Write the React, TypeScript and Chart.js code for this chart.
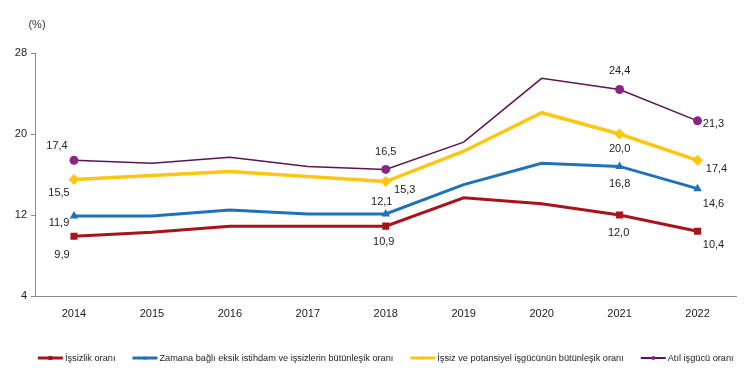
import React, { useEffect, useRef } from "react";
import { Chart, registerables } from "chart.js";

Chart.register(...registerables);

const years = ["2014", "2015", "2016", "2017", "2018", "2019", "2020", "2021", "2022"];
const unemployment = [9.9, 10.3, 10.9, 10.9, 10.9, 13.7, 13.1, 12.0, 10.4];
const timeRelated = [11.9, 11.9, 12.5, 12.1, 12.1, 15.0, 17.1, 16.8, 14.6];
const potential = [15.5, 15.9, 16.3, 15.8, 15.3, 18.3, 22.1, 20.0, 17.4];
const underutil = [17.4, 17.1, 17.7, 16.8, 16.5, 19.2, 25.5, 24.4, 21.3];
const seriesNames = [
  "İşsizlik oranı",
  "Zamana bağlı eksik istihdam ve işsizlerin bütünleşik oranı",
  "İşsiz ve potansiyel işgücünün bütünleşik oranı",
  "Atıl işgücü oranı",
];
const yMin = 4;
const yMax = 28;
const yStep = 8;
const labeledIdx = [0, 4, 7, 8];

// styling (not data)
const FONT = "'Liberation Sans', Arial, sans-serif";
const lineColors = ["#A8141C", "#1F72BA", "#FCC613", "#5C1456"];
const markerColors = ["#A8141C", "#1F72BA", "#FCC613", "#8C2389"];
const lineWidths = [3, 3, 3.5, 1.5];
const pointStyles = ["rect", "triangle", "rectRot", "circle"];
const pointRadii = [5, 5, 5.5, 4.5];
const labelOffsets = [
  [[-12, 19], [-2, 16], [-1, 18], [16, 14]],
  [[-15, 7], [-4, -12], [0, 18], [16, 15]],
  [[-15, 13], [19, 8], [0, 15], [19, 9]],
  [[-17, -14], [0, -17], [0, -18], [16, 3]],
];

const fmt = (v: number) => v.toFixed(1).replace(".", ",");

const labelPlugin = {
  id: "dataLabels",
  afterDatasetsDraw(chart: any) {
    const ctx = chart.ctx;
    ctx.save();
    ctx.font = `11px ${FONT}`;
    ctx.fillStyle = "#222";
    ctx.textAlign = "center";
    ctx.textBaseline = "middle";
    chart.data.datasets.forEach((ds: any, di: number) => {
      const meta = chart.getDatasetMeta(di);
      labeledIdx.forEach((idx, k) => {
        const el = meta.data[idx];
        const [dx, dy] = labelOffsets[di][k];
        ctx.fillText(fmt(ds.data[idx]), el.x + dx, el.y + dy);
      });
    });
    // unit label
    ctx.fillStyle = "#333";
    ctx.fillText("(%)", 29, 17);
    ctx.restore();
  },
};

function drawMarker(ctx: CanvasRenderingContext2D, style: string, x: number, y: number, r: number, color: string) {
  ctx.fillStyle = color;
  ctx.beginPath();
  if (style === "rect") {
    ctx.rect(x - r, y - r, 2 * r, 2 * r);
  } else if (style === "triangle") {
    ctx.moveTo(x, y - r);
    ctx.lineTo(x + r, y + r * 0.8);
    ctx.lineTo(x - r, y + r * 0.8);
    ctx.closePath();
  } else if (style === "rectRot") {
    ctx.moveTo(x, y - r);
    ctx.lineTo(x + r, y);
    ctx.lineTo(x, y + r);
    ctx.lineTo(x - r, y);
    ctx.closePath();
  } else {
    ctx.arc(x, y, r, 0, Math.PI * 2);
  }
  ctx.fill();
}

const legendPlugin = {
  id: "customLegend",
  afterDraw(chart: any) {
    const ctx = chart.ctx;
    ctx.save();
    ctx.font = `9.2px ${FONT}`;
    ctx.textBaseline = "middle";
    ctx.textAlign = "left";
    const sym = 25;
    const gap = 2;
    const spacing = 17;
    const widths = seriesNames.map((n) => ctx.measureText(n).width);
    const total = widths.reduce((a, w) => a + sym + gap + w, 0) + spacing * (seriesNames.length - 1);
    const ca = chart.chartArea;
    let x = (ca.left + ca.right) / 2 - total / 2;
    const y = 350;
    seriesNames.forEach((name, i) => {
      ctx.strokeStyle = lineColors[i];
      ctx.lineWidth = i === 3 ? 2 : 3;
      ctx.beginPath();
      ctx.moveTo(x, y);
      ctx.lineTo(x + sym, y);
      ctx.stroke();
      drawMarker(ctx, pointStyles[i], x + sym / 2, y, 2, markerColors[i]);
      ctx.fillStyle = "#222";
      ctx.fillText(name, x + sym + gap, y);
      x += sym + gap + widths[i] + spacing;
    });
    ctx.restore();
  },
};

export default function App() {
  const ref = useRef<HTMLCanvasElement>(null);
  useEffect(() => {
    if (!ref.current) return;
    const series = [unemployment, timeRelated, potential, underutil];
    const chart = new Chart(ref.current, {
      type: "line",
      data: {
        labels: years,
        datasets: series.map((d, i) => ({
          label: seriesNames[i],
          data: d,
          borderColor: lineColors[i],
          backgroundColor: markerColors[i],
          borderWidth: lineWidths[i],
          tension: 0,
          pointStyle: pointStyles[i] as any,
          pointRadius: d.map((_, j) => (labeledIdx.includes(j) ? pointRadii[i] : 0)),
          pointBorderWidth: 0,
          pointBorderColor: markerColors[i],
          pointBackgroundColor: markerColors[i],
          pointHoverRadius: 0,
        })),
      },
      options: {
        responsive: false,
        animation: false,
        devicePixelRatio: 1,
        layout: { padding: { top: 45, left: 0, right: 0, bottom: 0 } },
        plugins: {
          legend: { display: false },
          tooltip: { enabled: false },
        },
        scales: {
          x: {
            offset: true,
            grid: { display: false, drawOnChartArea: false, drawTicks: false },
            border: { display: true, color: "#8a8a8a", width: 1 },
            ticks: { color: "#222", font: { family: FONT, size: 11 }, padding: 11, maxRotation: 0 },
            afterFit: (s: any) => {
              s.height = 86;
            },
          },
          y: {
            min: yMin,
            max: yMax,
            grid: { drawOnChartArea: false, drawTicks: true, tickLength: 4, color: "#8a8a8a" },
            border: { display: true, color: "#8a8a8a", width: 1 },
            ticks: { stepSize: yStep, color: "#222", font: { family: FONT, size: 11 }, padding: 4 },
            afterFit: (s: any) => {
              s.width = 27;
            },
          },
        },
      },
      plugins: [labelPlugin, legendPlugin],
    });
    return () => chart.destroy();
  }, []);
  return <canvas ref={ref} width={734} height={374} style={{ display: "block" }} />;
}
